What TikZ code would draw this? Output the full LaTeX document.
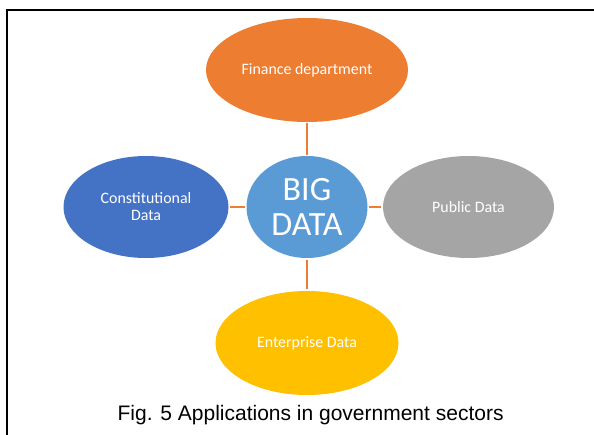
\documentclass[tikz,border=0pt]{standalone}
\usepackage{fontspec}
\setmainfont{Carlito}
\newfontfamily\capfont{Liberation Sans}
\usetikzlibrary{shapes.geometric}
\definecolor{finorange}{HTML}{ED7D31}
\definecolor{bigblue}{HTML}{5B9BD5}
\definecolor{conblue}{HTML}{4472C4}
\definecolor{pubgray}{HTML}{A5A5A5}
\definecolor{entyellow}{HTML}{FFC000}
\tikzset{
  blob/.style={ellipse, inner sep=0pt, text=white, align=center,
    font=\fontsize{15.9}{17}\selectfont},
  link/.style={draw=finorange, line width=2pt},
}
\begin{document}
\begin{tikzpicture}[x=1pt,y=-1pt]
\useasboundingbox (0,0) rectangle (594,435);
\fill[white] (0,0) rectangle (594,435);
% frame
\draw[line width=2pt] (7,435) -- (7,10) -- (594,10);
% hub and spokes
\node[blob, fill=bigblue, minimum width=121pt, minimum height=102pt,
      font=\fontsize{34}{35}\selectfont] (big) at (307,207) {BIG\\DATA};
\node[blob, fill=finorange, minimum width=202pt, minimum height=104pt] (fin) at (307,70) {Finance department};
\node[blob, fill=conblue, minimum width=165pt, minimum height=102pt] (con) at (146,207) {Constitutional\\Data};
\node[blob, fill=pubgray, minimum width=171pt, minimum height=102pt] (pub) at (468.5,207) {Public Data};
\node[blob, fill=entyellow, minimum width=183pt, minimum height=104pt] (ent) at (307,343) {Enterprise Data};
% connectors
\draw[link, shorten <=1pt, shorten >=1pt] (fin.south) -- (big.north);
\draw[link, shorten <=2pt, shorten >=2pt] (big.south) -- (ent.north);
\draw[link, shorten <=1.5pt, shorten >=1.5pt] (con.east) -- (big.west);
\draw[link, shorten <=1.5pt, shorten >=1.5pt] (big.east) -- (pub.west);
% caption
\node[font=\capfont\fontsize{21}{24}\selectfont, anchor=base] (cap) at (310.6,420)
  {Fig. 5 Applications in government sectors};
\end{tikzpicture}
\end{document}
